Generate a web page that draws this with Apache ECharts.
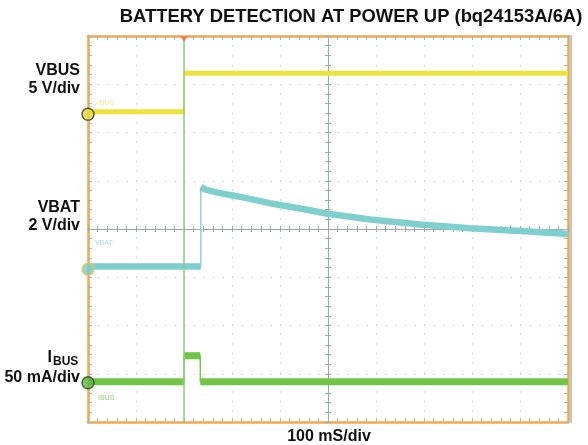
<!DOCTYPE html>
<html>
<head>
<meta charset="utf-8">
<script src="https://cdn.jsdelivr.net/npm/echarts@6/dist/echarts.min.js"></script>
<style>
  html, body { margin: 0; padding: 0; background: #fff; }
  #chart { width: 588px; height: 445px; }
</style>
</head>
<body>
<div id="chart"></div>
<script>
// time in ms (100 mS/div, 10 divisions)
const vbusT = [0, 200, 200, 1000];
const vbusV = [0.25, 0.25, 4.25, 4.25];           // V
const vbatT = [0, 235, 235, 245, 270, 310, 379, 448, 500, 588, 692, 796, 900, 1000];
const vbatV = [0.12, 0.12, 3.4, 3.3, 3.18, 3.03, 2.74, 2.5, 2.3, 2.06, 1.86, 1.7, 1.59, 1.46]; // V
const ibusT = [0, 200, 200, 234, 234, 1000];
const ibusV = [1, 1, 28, 28, 1, 1];               // mA

// scope settings: volts (or mA) per division and ground marker position in divisions
const VBUS_DIV = 5, VBUS_GND = 6.38;
const VBAT_DIV = 2, VBAT_GND = 3.165;
const IBUS_DIV = 50, IBUS_GND = 0.815;
const TRIGGER_T = 200;

const FONT = 'Liberation Sans, Arial, sans-serif';
const ORANGE = '#f1a94a';
const TICK = '#a9b2b4';
const DOT = '#c0d3dd';

function trace(ts, vs, gnd, perDiv) {
    return ts.map((t, i) => [t, gnd + vs[i] / perDiv]);
}
// thick noisy band: break the path at vertical edges
function band(pts) {
    let out = [];
    pts.forEach((p, i) => {
        if (i > 0 && p[0] === pts[i - 1][0]) out.push([p[0], '-']);
        out.push(p);
    });
    return out;
}

const vbus = trace(vbusT, vbusV, VBUS_GND, VBUS_DIV);
const vbat = trace(vbatT, vbatV, VBAT_GND, VBAT_DIV);
const ibus = trace(ibusT, ibusV, IBUS_GND, IBUS_DIV);

let chart = echarts.init(document.getElementById('chart'));

function edgeAxis(extra) {
    return Object.assign({
        type: 'value',
        axisLabel: { show: false },
        axisLine: { show: true, onZero: false, lineStyle: { color: ORANGE, width: 2.5 } },
        axisTick: { show: true, inside: true, length: 4, lineStyle: { color: TICK } },
        minorTick: { show: true, splitNumber: 5, length: 4, lineStyle: { color: TICK } },
        splitLine: { show: false }
    }, extra);
}
function centerAxis(extra) {
    return Object.assign({
        type: 'value',
        gridIndex: 1,
        axisLabel: { show: false },
        axisLine: { show: true, onZero: true, lineStyle: { color: '#9ea7a9', width: 1 } },
        axisTick: { show: true, inside: true, length: 3, lineStyle: { color: '#9ea7a9' } },
        minorTick: { show: true, splitNumber: 5, length: 3, lineStyle: { color: '#9ea7a9' } },
        splitLine: { show: false }
    }, extra);
}
const dotted = { show: true, lineStyle: { color: DOT, width: 1, type: [1.5, 8.1] } };

function thick(data, color, w) {
    return {
        type: 'line', xAxisIndex: 0, yAxisIndex: 0, data: band(data), showSymbol: false,
        connectNulls: false, lineStyle: { color: color, width: w }, silent: true, z: 3
    };
}
function thin(data, color) {
    return {
        type: 'line', xAxisIndex: 0, yAxisIndex: 0, data: data, showSymbol: false,
        lineStyle: { color: color, width: 1.5 }, silent: true, z: 3
    };
}

chart.setOption({
    animation: false,
    grid: [
        { left: 88, right: 20, top: 36, bottom: 23 },
        { left: 88, right: 20, top: 36, bottom: 23 }
    ],
    xAxis: [
        edgeAxis({ gridIndex: 0, min: 0, max: 1000, interval: 100, position: 'bottom', splitLine: dotted }),
        edgeAxis({ gridIndex: 0, min: 0, max: 1000, interval: 100, position: 'top' }),
        centerAxis({ min: -5, max: 5, interval: 1, position: 'bottom' }),
        centerAxis({ min: -5, max: 5, interval: 1, position: 'top' })
    ],
    yAxis: [
        edgeAxis({ gridIndex: 0, min: 0, max: 8, interval: 1, position: 'left', splitLine: dotted }),
        edgeAxis({ gridIndex: 0, min: 0, max: 8, interval: 1, position: 'right' }),
        centerAxis({ min: -4, max: 4, interval: 1, position: 'left' }),
        centerAxis({ min: -4, max: 4, interval: 1, position: 'right' })
    ],
    series: [
        thin(vbus, '#e9df3a'),
        thick(vbus, '#ece33c', 5),
        thin(vbat, '#8fd4d4'),
        thick(vbat, '#7fcfcf', 6.5),
        thin(ibus, '#77c64c'),
        thick(ibus, '#72c446', 7),
        {
            // trigger line and marker
            type: 'line', xAxisIndex: 0, yAxisIndex: 0, data: [], silent: true, z: 4,
            markLine: {
                silent: true, symbol: 'none', label: { show: false },
                lineStyle: { color: '#86d277', width: 1.5, type: 'solid' },
                data: [{ xAxis: TRIGGER_T }]
            },
            markPoint: {
                silent: true, symbol: 'triangle', symbolRotate: 180, symbolSize: [7, 6],
                symbolOffset: [0, 3], itemStyle: { color: '#f07a5a' }, label: { show: false },
                data: [{ coord: [TRIGGER_T, 8] }]
            }
        },
        {
            // channel ground markers
            type: 'scatter', xAxisIndex: 0, yAxisIndex: 0, symbolSize: 12, clip: false, z: 5, silent: true,
            data: [
                { value: [0, VBUS_GND], itemStyle: { color: '#e6dc3a', borderColor: '#3a3a2a', borderWidth: 1.5 } },
                { value: [0, VBAT_GND], itemStyle: { color: '#7cc9c6', borderColor: '#e8c54a', borderWidth: 1.5 } },
                { value: [0, IBUS_GND], itemStyle: { color: '#5db843', borderColor: '#274a1e', borderWidth: 1.5 } }
            ]
        }
    ],
    graphic: [
        { type: 'text', x: 351, y: 17, style: { text: 'BATTERY DETECTION AT POWER UP (bq24153A/6A)', font: 'bold 18.4px ' + FONT, fill: '#111', align: 'center', verticalAlign: 'middle' } },
        { type: 'text', x: 80, y: 71, style: { text: 'VBUS', font: 'bold 16px ' + FONT, fill: '#111', align: 'right', verticalAlign: 'middle' } },
        { type: 'text', x: 80, y: 89, style: { text: '5 V/div', font: 'bold 16px ' + FONT, fill: '#111', align: 'right', verticalAlign: 'middle' } },
        { type: 'text', x: 80, y: 208, style: { text: 'VBAT', font: 'bold 16px ' + FONT, fill: '#111', align: 'right', verticalAlign: 'middle' } },
        { type: 'text', x: 80, y: 226, style: { text: '2 V/div', font: 'bold 16px ' + FONT, fill: '#111', align: 'right', verticalAlign: 'middle' } },
        { type: 'text', x: 52, y: 358, style: { text: 'I', font: 'bold 16px ' + FONT, fill: '#111', align: 'right', verticalAlign: 'middle' } },
        { type: 'text', x: 53, y: 362, style: { text: 'BUS', font: 'bold 12px ' + FONT, fill: '#111', align: 'left', verticalAlign: 'middle' } },
        { type: 'text', x: 80, y: 378, style: { text: '50 mA/div', font: 'bold 16px ' + FONT, fill: '#111', align: 'right', verticalAlign: 'middle' } },
        { type: 'text', x: 329, y: 437, style: { text: '100 mS/div', font: 'bold 16px ' + FONT, fill: '#111', align: 'center', verticalAlign: 'middle' } },
        { type: 'text', x: 95, y: 103, style: { text: 'VBUS', font: '7px ' + FONT, fill: '#ece79a', verticalAlign: 'middle' } },
        { type: 'text', x: 95, y: 243, style: { text: 'VBAT', font: '7px ' + FONT, fill: '#a9dcdc', verticalAlign: 'middle' } },
        { type: 'text', x: 98, y: 398, style: { text: 'IBUS', font: '7px ' + FONT, fill: '#93d174', verticalAlign: 'middle' } },
        { type: 'line', shape: { x1: 571, y1: 35, x2: 571, y2: 423 }, style: { stroke: '#8a8a8a', lineWidth: 1 } }
    ]
});
</script>
</body>
</html>
